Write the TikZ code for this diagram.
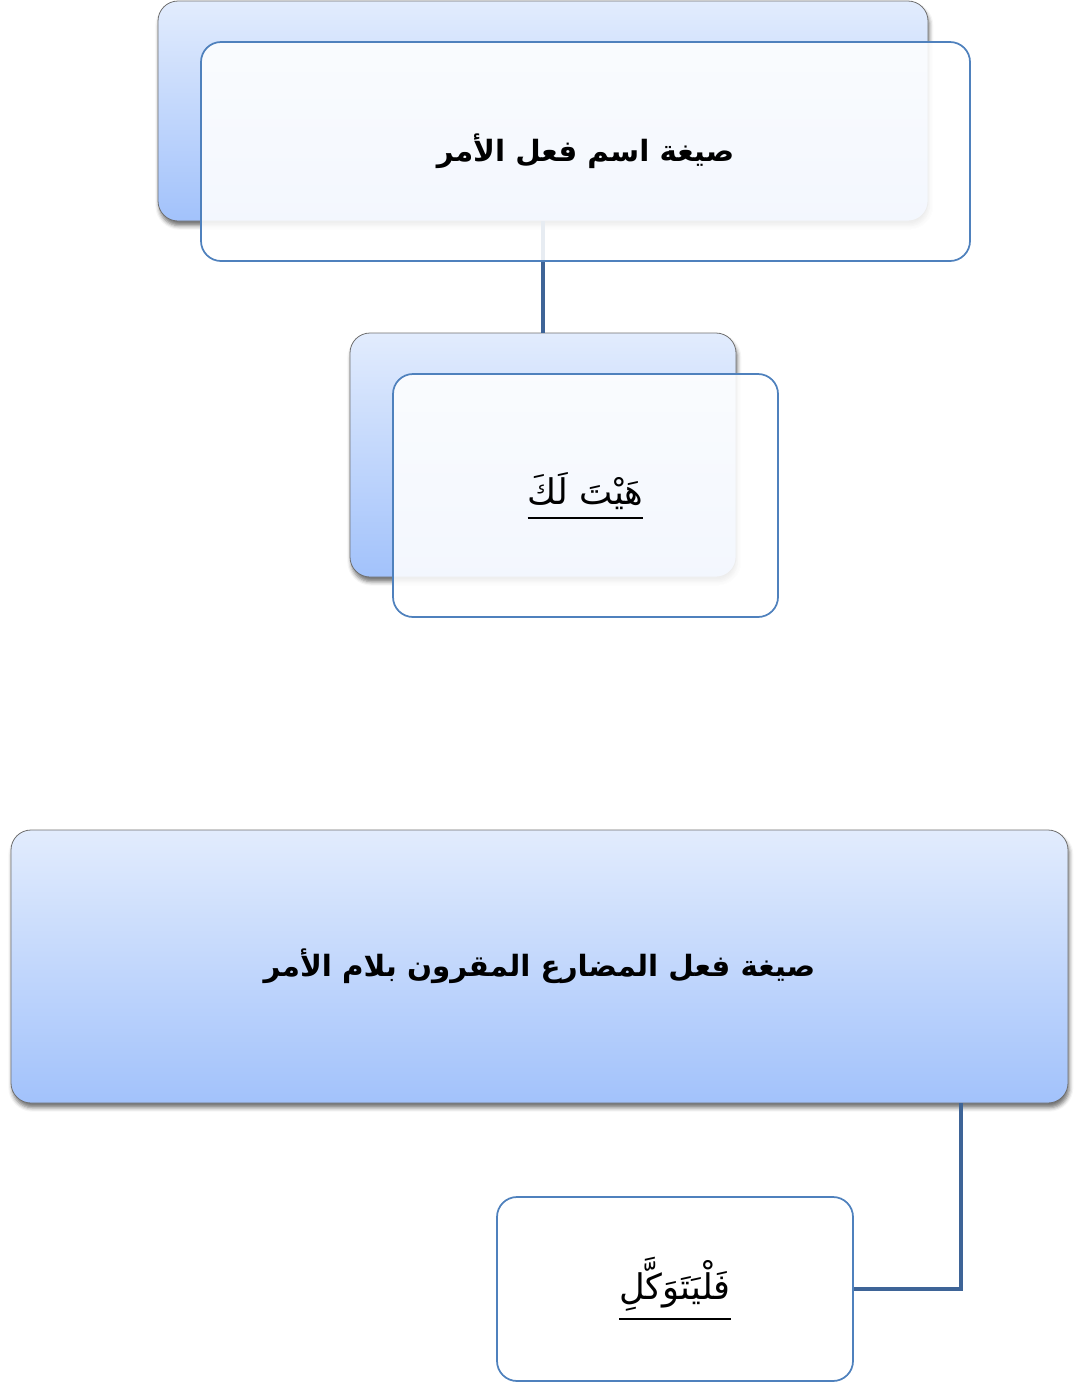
\documentclass[tikz,border=0pt]{standalone}
\usepackage{fontspec}
\newfontfamily\arabicfont[Script=Arabic]{DejaVu Sans}
\TeXXeTstate=1
\usetikzlibrary{shadows.blur}
\definecolor{gradtop}{HTML}{E2ECFD}
\definecolor{gradbot}{HTML}{A2C2FB}
\definecolor{backborder}{HTML}{6F6F6F}
\definecolor{frontborder}{HTML}{4F81BD}
\definecolor{connblue}{HTML}{3E6497}
\newcommand{\ulword}[1]{\vtop{\hbox{\beginR #1\endR}\kern5pt\hrule height 1.6pt}}
\tikzset{
  backbox/.style={rectangle, rounded corners=15pt, draw=backborder, line width=0.6pt,
    top color=gradtop, bottom color=gradbot, inner sep=0pt,
    blur shadow={shadow xshift=1pt, shadow yshift=-3.5pt, shadow blur radius=3pt, shadow opacity=55}},
  frontbox/.style={rectangle, rounded corners=15pt, draw=frontborder, line width=1.3pt,
    fill=white, fill opacity=0.88, text opacity=1, inner sep=0pt},
  conn/.style={draw=connblue, line width=3pt},
  title/.style={font=\arabicfont\bfseries\fontsize{22}{26}\selectfont},
  example/.style={font=\arabicfont\fontsize{26.5}{30}\selectfont}
}
\begin{document}
\begin{tikzpicture}[x=0.75pt, y=-0.75pt]
\useasboundingbox (0,0) rectangle (1076,1382);
% top group
\node[backbox, minimum width=770*0.75pt, minimum height=220*0.75pt] (topback) at (543,111) {};
\node[backbox, minimum width=386*0.75pt, minimum height=244*0.75pt] (midback) at (543,455) {};
\draw[conn] (topback.south) -- (midback.north);
\node[frontbox, title, minimum width=769*0.75pt, minimum height=219*0.75pt] (topfront) at (585.5,151.5)
  {\beginR صيغة اسم فعل الأمر\endR};
\node[frontbox, example, minimum width=385*0.75pt, minimum height=243*0.75pt] (midfront) at (585.5,495.5)
  {\ulword{هَيْتَ لَكَ}};
% bottom group
\node[backbox, title, minimum width=1057*0.75pt, minimum height=273*0.75pt] (big) at (539.5,966.5)
  {\beginR صيغة فعل المضارع المقرون بلام الأمر\endR};
\node[frontbox, example, fill opacity=1, minimum width=356*0.75pt, minimum height=184*0.75pt] (small) at (675,1289)
  {\ulword{فَلْيَتَوَكَّلِ}};
\coordinate (bend) at (961,1289);
\draw[conn] (big.south -| bend) |- (small.east);
\end{tikzpicture}
\end{document}
